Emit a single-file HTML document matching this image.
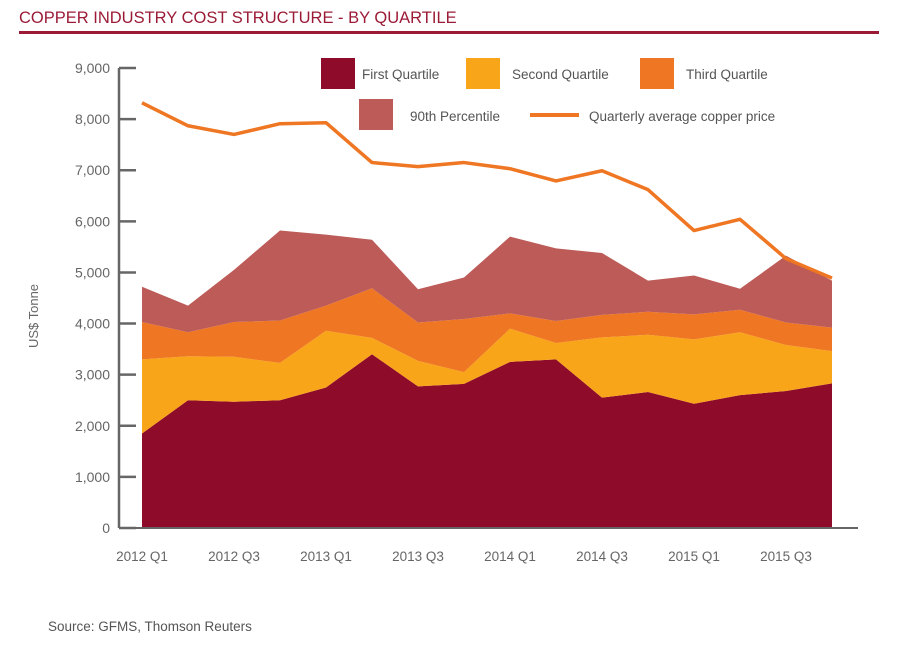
<!DOCTYPE html>
<html><head><meta charset="utf-8"><style>
body{margin:0;background:#fff;width:899px;height:661px;overflow:hidden;font-family:"Liberation Sans",sans-serif;}
svg text{font-family:"Liberation Sans",sans-serif;}
</style></head><body>
<svg id="c" width="899" height="661">
<text x="19" y="23" font-size="16.5" fill="#9b1b36">COPPER INDUSTRY COST STRUCTURE - BY QUARTILE</text>
<rect x="19" y="31" width="860" height="3" fill="#9b1b36"/>
<g id="plot"></g>
<text x="38" y="316" font-size="13" fill="#666" transform="rotate(-90 38 316)" text-anchor="middle">US$ Tonne</text>
<text x="48" y="631" font-size="13.5" fill="#555">Source: GFMS, Thomson Reuters</text>
<g>
<rect x="321" y="58" width="34" height="31" fill="#8e0c29"/>
<text x="362" y="79" font-size="13.5" fill="#555">First Quartile</text>
<rect x="466" y="58" width="34" height="31" fill="#f9a51a"/>
<text x="512" y="79" font-size="13.5" fill="#555">Second Quartile</text>
<rect x="640" y="58" width="34" height="31" fill="#ef7622"/>
<text x="686" y="79" font-size="13.5" fill="#555">Third Quartile</text>
<rect x="359" y="99" width="34" height="31" fill="#bd5b58"/>
<text x="410" y="121" font-size="13.5" fill="#555">90th Percentile</text>
<rect x="530" y="113" width="49" height="4" fill="#ef7622"/>
<text x="589" y="121" font-size="13.5" fill="#555">Quarterly average copper price</text>
</g>
</svg>
<script>
const categories=["2012 Q1","2012 Q2","2012 Q3","2012 Q4","2013 Q1","2013 Q2","2013 Q3","2013 Q4","2014 Q1","2014 Q2","2014 Q3","2014 Q4","2015 Q1","2015 Q2","2015 Q3","2015 Q4"];
const firstQuartile=[1850,2500,2470,2500,2750,3400,2770,2820,3250,3300,2550,2660,2430,2600,2680,2830];
const secondQuartile=[1450,860,880,730,1110,320,500,230,650,320,1180,1120,1260,1230,900,630];
const thirdQuartile=[730,470,680,830,490,970,750,1040,300,430,440,450,490,440,440,460];
const percentile90=[690,520,1020,1760,1390,950,650,810,1500,1420,1210,610,760,410,1310,920];
const copperPrice=[8320,7870,7700,7910,7930,7150,7070,7150,7030,6790,6990,6620,5820,6040,5270,4890];
const yTicks=[0,1000,2000,3000,4000,5000,6000,7000,8000,9000];
const xTickLabels=["2012 Q1","2012 Q3","2013 Q1","2013 Q3","2014 Q1","2014 Q3","2015 Q1","2015 Q3"];

const NS="http://www.w3.org/2000/svg";
const g=document.getElementById('plot');
const x=i=>142+i*46;
const y=v=>528-v*(460/9000);
function mk(t,a){const e=document.createElementNS(NS,t);for(const k in a)e.setAttribute(k,a[k]);g.appendChild(e);return e;}
const layers=[[firstQuartile,"#8e0c29","area-first-quartile"],[secondQuartile,"#f9a51a","area-second-quartile"],[thirdQuartile,"#ef7622","area-third-quartile"],[percentile90,"#bd5b58","area-90th-percentile"]];
let base=categories.map(()=>0);
layers.forEach(([vals,col,name])=>{
  const top=base.map((b,i)=>b+vals[i]);
  let d=top.map((v,i)=>(i?'L':'M')+x(i)+','+y(v)).join('');
  for(let i=base.length-1;i>=0;i--)d+='L'+x(i)+','+y(base[i]);
  const p=mk('path',{d:d+'Z',fill:col});
  
  
  base=top;
});
const line=mk('polyline',{points:copperPrice.map((v,i)=>x(i)+','+y(v)).join(' '),fill:'none',stroke:'#ef7622','stroke-width':3.5,'stroke-linejoin':'round'});


const ax=mk('line',{x1:119,y1:y(9000),x2:119,y2:528,stroke:'#666','stroke-width':2.5});


const xa=mk('line',{x1:119,y1:528,x2:858,y2:528,stroke:'#666','stroke-width':2});


yTicks.forEach(v=>{
  const t=mk('line',{x1:119,y1:y(v),x2:136,y2:y(v),stroke:'#666','stroke-width':2.5});
  
  
  const l=mk('text',{x:110,y:y(v)+5,'text-anchor':'end','font-size':14,fill:'#666'});
  l.textContent=v.toLocaleString('en-US');
  
  
});
xTickLabels.forEach(lab=>{
  const i=categories.indexOf(lab);
  const l=mk('text',{x:x(i),y:561,'text-anchor':'middle','font-size':13.5,fill:'#666'});
  l.textContent=lab;
  
  
});
</script>
</body></html>
